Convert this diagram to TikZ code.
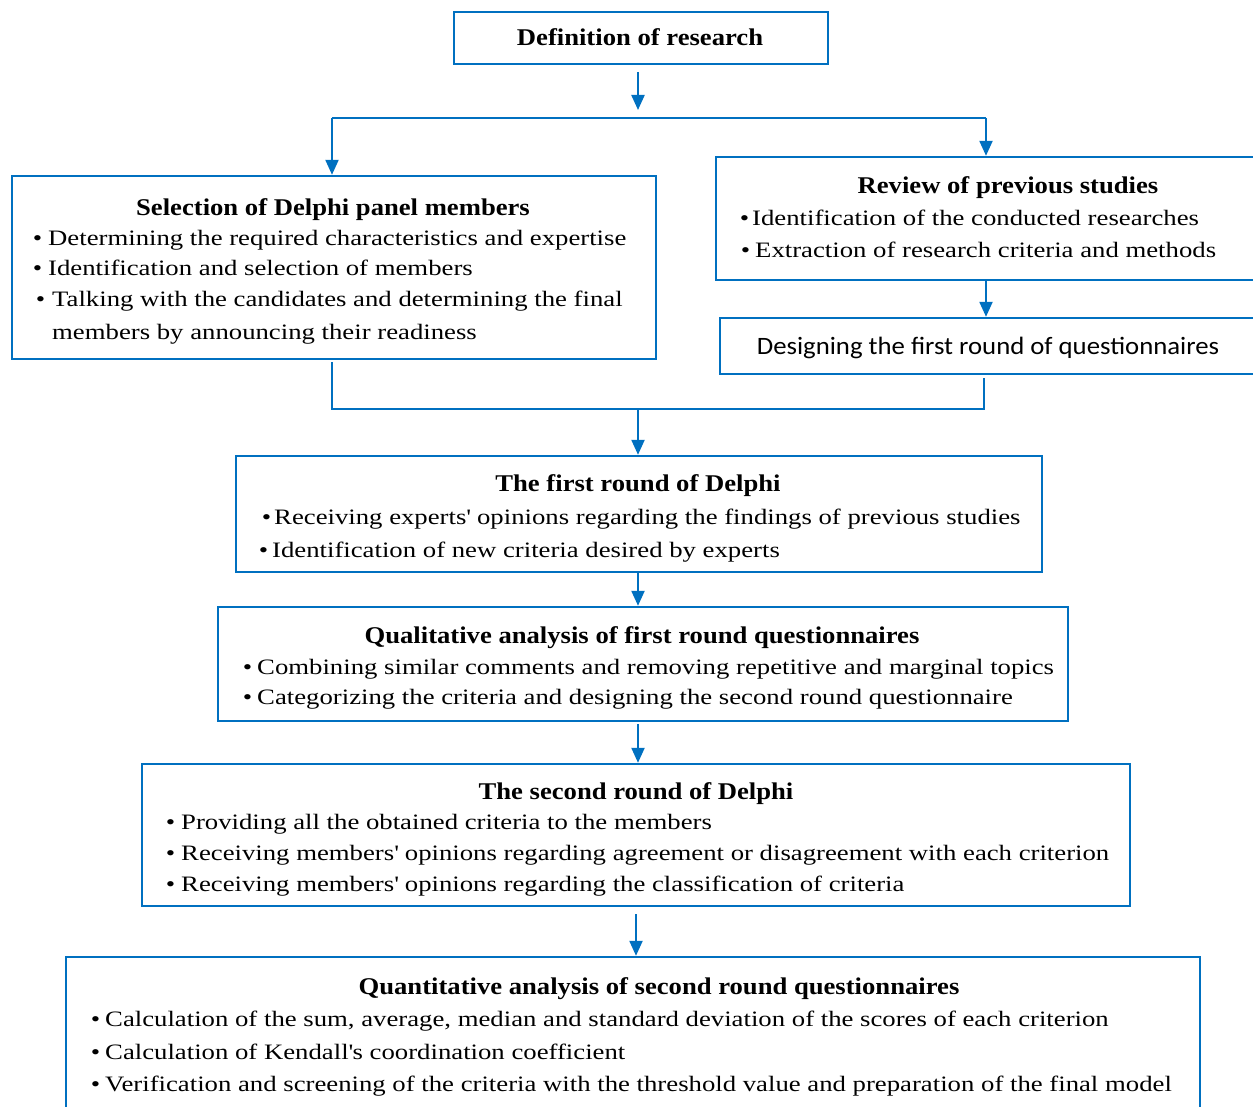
\documentclass[tikz,border=0pt]{standalone}
\usepackage{fontspec}
\setmainfont{Liberation Serif}
\newfontfamily\bodyf{Liberation Serif}[FakeStretch=1.215]
\newfontfamily\ttlf{Liberation Serif Bold}[FakeStretch=1.11]
\newfontfamily\calibri{Carlito}[FakeStretch=1.07]
\usetikzlibrary{arrows.meta}
\definecolor{bblue}{HTML}{0070C0}
\newcommand\bl[1][5]{\llap{•\hspace{#1pt}}}
\newcommand\apo{\textquotesingle}
\begin{document}
\begin{tikzpicture}[x=1pt,y=-1pt,
  box/.style={draw=bblue,line width=2.4pt,inner sep=0pt},
  ttl/.style={anchor=base,inner sep=0pt,font=\ttlf\fontsize{24}{28}\selectfont},
  ln/.style={anchor=base west,inner sep=0pt,font=\bodyf\fontsize{22}{27}\selectfont},
  arr/.style={draw=bblue,line width=2.2pt,-{Triangle[width=13pt,length=15pt]}},
  thin/.style={draw=bblue,line width=1.3pt}]
\useasboundingbox (0,0) rectangle (1253,1107);
% boxes
\node[box,minimum width=374pt,minimum height=52pt] (def) at (641,38) {};
\node[box,minimum width=644pt,minimum height=183pt] (sel) at (334,267.5) {};
\node[box,minimum width=560pt,minimum height=123pt] (rev) at (996,218.5) {};
\node[box,minimum width=556pt,minimum height=56pt] (des) at (998,346) {};
\node[box,minimum width=806pt,minimum height=116pt] (fr) at (639,514) {};
\node[box,minimum width=850pt,minimum height=114pt] (qa) at (643,664) {};
\node[box,minimum width=988pt,minimum height=142pt] (sr) at (636,835) {};
\node[box,minimum width=1134pt,minimum height=180pt] (qn) at (633,1047) {};
% texts
\node[ttl] (tdef) at (640,46) {Definition of research};
\node[ttl] (tsel) at (333,216) {Selection of Delphi panel members};
\node[ln] (sel1) at (48,246) {\bl[6]Determining the required characteristics and expertise};
\node[ln] (sel2) at (48,276) {\bl[6]Identification and selection of members};
\node[ln] (sel3) at (52,307) {\bl[7]Talking with the candidates and determining the final};
\node[ln] (sel4) at (52,339) {members by announcing their readiness};
\node[ttl] (trev) at (1008,194) {Review of previous studies};
\node[ln] (rev1) at (752,226) {\bl[3]Identification of the conducted researches};
\node[ln] (rev2) at (755,258) {\bl[5]Extraction of research criteria and methods};
\node[anchor=base,inner sep=0pt,font=\calibri\fontsize{25}{29}\selectfont] (tdes) at (988,354) {Designing the first round of questionnaires};
\node[ttl] (tfr) at (638,491) {The first round of Delphi};
\node[ln] (fr1) at (274,524) {\bl[3]Receiving experts\apo{} opinions regarding the findings of previous studies};
\node[ln] (fr2) at (272,557) {\bl[4]Identification of new criteria desired by experts};
\node[ttl] (tqa) at (642,643) {Qualitative analysis of first round questionnaires};
\node[ln] (qa1) at (257,674) {\bl[5]Combining similar comments and removing repetitive and marginal topics};
\node[ln] (qa2) at (257,704) {\bl[5]Categorizing the criteria and designing the second round questionnaire};
\node[ttl] (tsr) at (636,799) {The second round of Delphi};
\node[ln] (sr1) at (181,829) {\bl[6]Providing all the obtained criteria to the members};
\node[ln] (sr2) at (181,860) {\bl[6]Receiving members\apo{} opinions regarding agreement or disagreement with each criterion};
\node[ln] (sr3) at (181,891) {\bl[6]Receiving members\apo{} opinions regarding the classification of criteria};
\node[ttl] (tqn) at (659,994) {Quantitative analysis of second round questionnaires};
\node[ln] (qn1) at (105,1026) {\bl[5]Calculation of the sum, average, median and standard deviation of the scores of each criterion};
\node[ln] (qn2) at (105,1059) {\bl[5]Calculation of Kendall\apo{}s coordination coefficient};
\node[ln] (qn3) at (105,1091) {\bl[5]Verification and screening of the criteria with the threshold value and preparation of the final model};
% connector coordinates
\coordinate (a0) at (638,72);
\coordinate (j1) at (638,110);
\coordinate (jl) at (332,118);
\coordinate (jr) at (986,118);
\coordinate (r0) at (986,280);
\coordinate (b1) at (332,362);
\coordinate (b2) at (332,409);
\coordinate (b3) at (984,409);
\coordinate (b4) at (984,378);
\coordinate (bm) at (638,409);
\coordinate (f0) at (638,572);
\coordinate (q0) at (638,724);
\coordinate (s0) at (636,914);
% connectors
\draw[arr] (a0) -- (j1);
\draw[thin] (jl) -- (jr);
\draw[arr] (jl) -- (jl |- sel.north);
\draw[arr] (jr) -- (jr |- rev.north);
\draw[arr] (r0) -- (r0 |- des.north);
\draw[thin] (b1) -- (b2) -- (b3) -- (b4);
\draw[arr] (bm) -- (bm |- fr.north);
\draw[arr] (f0) -- (f0 |- qa.north);
\draw[arr] (q0) -- (q0 |- sr.north);
\draw[arr] (s0) -- (s0 |- qn.north);
\end{tikzpicture}
\end{document}
